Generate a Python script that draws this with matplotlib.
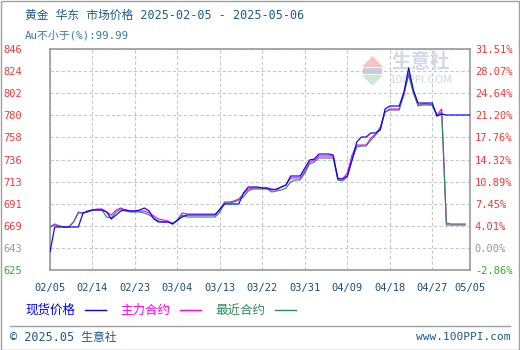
import numpy as np
import matplotlib
matplotlib.use("Agg")
import matplotlib.pyplot as plt
from matplotlib.lines import Line2D
from matplotlib.patches import Polygon

plt.rcParams['font.family'] = ['DejaVu Sans Mono', 'Noto Sans CJK SC']

# ---------------- data ----------------
title = "黄金 华东 市场价格 2025-02-05 - 2025-05-06"
subtitle = "Au不小于(%):99.99"
x_labels = ["02/05", "02/14", "02/23", "03/04", "03/13", "03/22", "03/31",
            "04/09", "04/18", "04/27", "05/05"]
x_tick_days = [0, 9, 18, 27, 36, 45, 54, 63, 72, 81, 89]
y_left_labels = ["625", "643", "669", "691", "713", "736", "758", "780",
                 "802", "824", "846"]
y_right_labels = ["-2.86%", "0.00%", "4.01%", "7.45%", "10.89%", "14.32%",
                  "17.76%", "21.20%", "24.64%", "28.07%", "31.51%"]
y_min, y_max = 625, 846

spot = [643, 668, 668, 668, 668, 668, 668, 682, 684, 685,
        685, 685, 683, 676, 680, 684, 685, 684, 684, 685,
        687, 684, 676, 673, 673, 673, 671, 675, 678, 680,
        680, 680, 680, 680, 680, 680, 686, 691, 691, 691,
        691, 702, 708, 708, 708, 707, 707, 705, 706, 708,
        710, 719, 719, 719, 727, 735, 736, 741, 741, 741,
        740, 716, 716, 719, 735, 753, 758, 758, 762, 762,
        765, 786, 789, 789, 789, 803, 827, 805, 792, 792,
        792, 792, 779, 781, 780, 780, 780, 780, 780, 780]
main_contract = [668, 671, 669, 668, 668, 673, 683, 682, 683, 685,
                 686, 686, 683, 680, 685, 687, 685, 684, 684, 684,
                 684, 682, 679, 676, 675, 674, 671, 675, 682, 681,
                 681, 681, 681, 681, 681, 681, 685, 693, 693, 694,
                 696, 701, 706, 707, 707, 707, 707, 706, 705, 708,
                 710, 717, 717, 717, 724, 733, 735, 739, 739, 739,
                 739, 717, 716, 722, 740, 750, 750, 750, 757, 761,
                 768, 783, 786, 786, 786, 800, 822, 803, 789, 791,
                 791, 790, 780, 786, 672, 671, 671, 671, 671]
near_contract = [668, 670, 669, 668, 668, 673, 682, 682, 683, 685,
                 685, 685, 678, 677, 683, 686, 684, 683, 683, 683,
                 682, 680, 677, 674, 673, 673, 672, 674, 680, 678,
                 678, 678, 678, 678, 678, 678, 683, 692, 692, 693,
                 695, 698, 704, 706, 706, 706, 706, 703, 704, 705,
                 707, 713, 715, 715, 722, 731, 733, 737, 737, 737,
                 737, 715, 714, 718, 735, 748, 749, 749, 755, 760,
                 766, 783, 785, 785, 785, 802, 820, 802, 790, 790,
                 790, 790, 779, 783, 670, 670, 670, 670, 670]
series_names = ["现货价格", "主力合约", "最近合约"]
series_colors = ["#0000ff", "#ff00ff", "#2e8b57"]

# ---------------- figure ----------------
W, H = 520, 350
fig = plt.figure(figsize=(W / 100, H / 100), dpi=100)
fig.patch.set_facecolor("white")


def fx(px):
    return px / W


def fy(py):
    return 1 - py / H


# outer frame
fig.add_artist(plt.Rectangle((0.5 / W, 0.5 / H), 1 - 1.5 / W, 1 - 1.5 / H,
                             transform=fig.transFigure, fill=False,
                             edgecolor="#a0a0a0", linewidth=1.0))

L, R, T, B = 50, 470, 49, 270
ax = fig.add_axes([fx(L), fy(B), (R - L) / W, (B - T) / H])
ax.set_xlim(0, 89)
ax.set_ylim(y_min, y_max)

yt = np.linspace(y_min, y_max, len(y_left_labels))
ax.set_yticks(yt)
ax.set_yticklabels(y_left_labels)
ax.set_xticks(x_tick_days)
ax.set_xticklabels(x_labels)
ax.tick_params(axis='both', length=0, labelsize=7.5)
ax.tick_params(axis='y', pad=20)
ax.tick_params(axis='x', pad=9, labelcolor="#1a4f7a")
left_colors = ["#33aa33", "#999999"] + ["#ff3333"] * 9
for lab, c in zip(ax.get_yticklabels(), left_colors):
    lab.set_color(c)

ax.grid(True, color="#c8c8c8", linestyle=(0, (3, 2)), linewidth=0.8)
for s in ax.spines.values():
    s.set_color("#999999")
    s.set_linewidth(1.2)

# watermark (logo + text), drawn beneath the axes content
fig.add_artist(Polygon([(fx(362), fy(67)), (fx(383), fy(67)), (fx(372.5), fy(56))],
                       closed=True, transform=fig.transFigure,
                       facecolor="#f6c4c0", edgecolor="none", zorder=-1))
fig.add_artist(Polygon([(fx(362), fy(75)), (fx(383), fy(75)), (fx(372.5), fy(86))],
                       closed=True, transform=fig.transFigure,
                       facecolor="#c9ecd0", edgecolor="none", zorder=-1))
fig.add_artist(plt.Rectangle((fx(363), fy(74)), 19 / W, 6 / H,
                             transform=fig.transFigure, facecolor="#c8cde0",
                             edgecolor="none", zorder=-1))
fig.text(fx(421), fy(62), "生意社", fontsize=14, color="#d3d8e6",
         ha='center', va='center', family=['Noto Sans CJK SC'],
         fontweight='bold', zorder=-1)
fig.text(fx(421), fy(80), "100PPI.COM", fontsize=7.5, color="#d3d8e6",
         ha='center', va='center', family=['DejaVu Sans'], zorder=-1)

ax2 = ax.twinx()
ax2.set_ylim(y_min, y_max)
ax2.set_yticks(yt)
ax2.set_yticklabels(y_right_labels)
ax2.tick_params(axis='y', length=0, labelsize=7.5, pad=3.5)
right_colors = ["#33aa33", "#999999"] + ["#ff3333"] * 9
for lab, c in zip(ax2.get_yticklabels(), right_colors):
    lab.set_color(c)
for s in ax2.spines.values():
    s.set_visible(False)
ax2.patch.set_visible(False)
ax.patch.set_visible(False)

for vals, col, z in [(main_contract, series_colors[1], 3),
                     (near_contract, series_colors[2], 4),
                     (spot, series_colors[0], 5)]:
    ax.plot(np.arange(len(vals)), vals, color=col, linewidth=0.85, zorder=z)

# titles
fig.text(fx(25), fy(15), title, fontsize=8.5, color="#1b5e8c",
         ha='left', va='center')
fig.text(fx(25), fy(35), subtitle, fontsize=7.8, color="#3a7ab0",
         ha='left', va='center')

# legend row
ly = fy(310)
leg_x = [25, 120, 215]
for name, col, x0 in zip(series_names, series_colors, leg_x):
    fig.text(fx(x0), ly, name, fontsize=9, color=col, ha='left', va='center',
             family=['Noto Sans CJK SC'])
    fig.add_artist(Line2D([fx(x0 + 60), fx(x0 + 81)], [ly, ly],
                          transform=fig.transFigure, color=col, linewidth=1.0))

# footer
fig.add_artist(Line2D([fx(10), fx(510)], [fy(326), fy(326)],
                      transform=fig.transFigure, color="#a0a0a0", linewidth=1.0))
fig.text(fx(10), fy(337), "© 2025.05 生意社", fontsize=8.5, color="#1a5a8a",
         ha='left', va='center')
fig.text(fx(510), fy(337), "www.100PPI.com", fontsize=8, color="#1a5a8a",
         ha='right', va='center')

fig.savefig("out.png", dpi=100, facecolor="white")
